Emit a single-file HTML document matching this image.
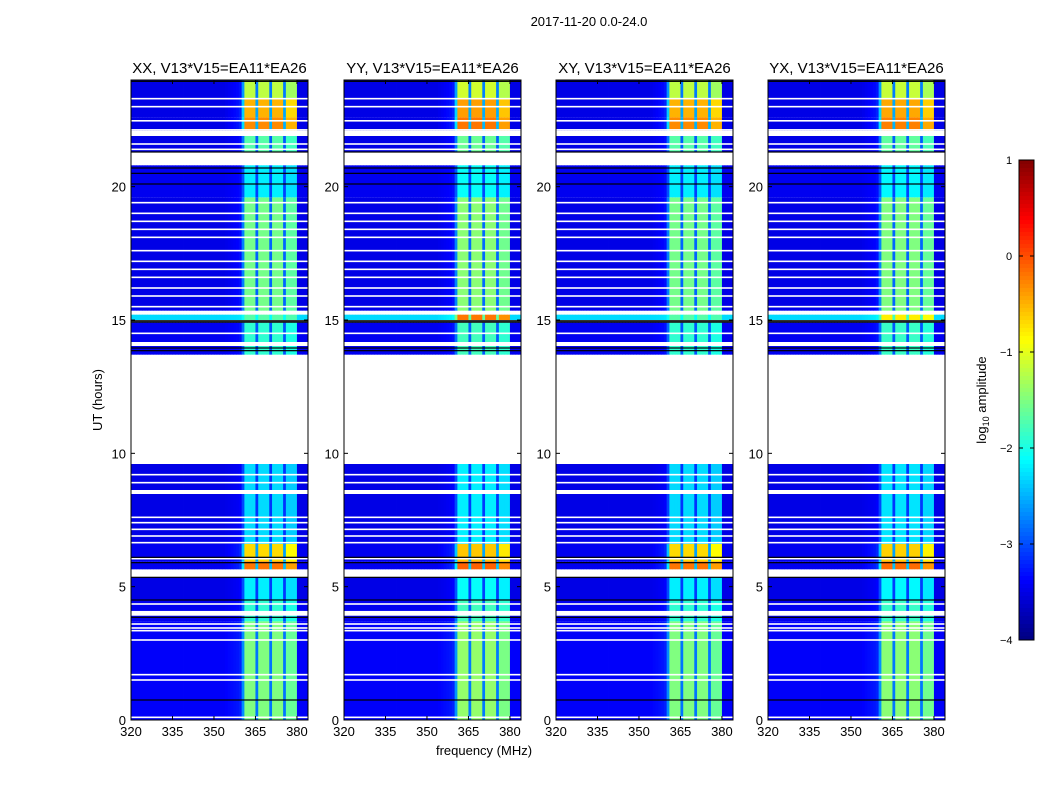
<!DOCTYPE html>
<html><head><meta charset="utf-8"><style>
body{margin:0;background:#fff;}
svg{display:block;font-family:"Liberation Sans",sans-serif;}
</style></head><body>
<svg id="c" width="1050" height="800" xmlns="http://www.w3.org/2000/svg">
<text x="589" y="26" font-size="13" text-anchor="middle">2017-11-20 0.0-24.0</text>
<text x="484" y="755" font-size="13" text-anchor="middle">frequency (MHz)</text>
<text x="102" y="400" font-size="13" text-anchor="middle" transform="rotate(-90 102 400)">UT (hours)</text>
<text x="986" y="400" font-size="13" text-anchor="middle" transform="rotate(-90 986 400)">log<tspan font-size="9" dy="3">10</tspan><tspan dy="-3"> amplitude</tspan></text>
<g id="panels"></g>
<g id="cbar"></g>
</svg>
<script>
// ---- data ----
const panelTitles = ["XX, V13*V15=EA11*EA26","YY, V13*V15=EA11*EA26","XY, V13*V15=EA11*EA26","YX, V13*V15=EA11*EA26"];
const freqStart = 320, freqEnd = 384;
// per-MHz column gain (0 = background, 1.6 = full band level)
const colGain = [0,0,0,0,0,0,0,0,0,0, 0,0,0,0,0,0,0,0,0,0, 0,0,0,0,0,0,0,0,0,0, 0,0,0,0,0.02,0.04,0.06,0.08,0.1,0.15,
  0.6,1.6,1.6,1.6,1.6,0.5,1.6,1.6,1.6,1.6, 0.5,1.6,1.6,1.6,1.6,0.5,1.5,1.5,1.5,1.5, 0,0,0,0];
// time segments: start hour, end hour, background level, band level
const segStart = [0,3.7,4.5,5.65,5.95,6.6,13.7,15.0,15.35,19.6,21.3,22.1,22.6,23.3];
const segEnd   = [3.7,4.5,5.35,5.95,6.6,9.6,14.9,15.2,19.6,20.8,21.9,22.6,23.3,24];
const segBg    = [-3.4,-3.45,-3.5,-3.45,-3.45,-3.5,-3.45,-2.3,-3.5,-3.45,-3.5,-3.5,-3.5,-3.5];
const segBand  = [-1.5,-1.9,-2.2,-0.2,-0.7,-2.3,-1.9,-1.7,-1.55,-2.2,-1.7,-0.3,-0.5,-1.2];
const panelShift = [0,0.1,0,0.05];
const row15Band = [-1.7,-0.2,-1.7,-0.8];
const whiteLines = [0.1,1.5,1.7,3.0,3.35,3.45,3.6,4.0,4.35,6.05,6.65,6.9,7.15,7.4,7.6,8.55,8.9,9.2,14.1,14.5,15.5,15.9,16.2,16.6,16.9,17.2,17.6,18.1,18.4,18.7,19.0,19.4,21.4,21.6,22.13,22.47,23.0,23.3];
const whiteThick = [0.06,0.06,0.06,0.06,0.06,0.06,0.06,0.18,0.06,0.06,0.06,0.06,0.06,0.06,0.06,0.15,0.06,0.06,0.15,0.06,0.06,0.06,0.06,0.06,0.06,0.06,0.06,0.06,0.06,0.06,0.06,0.06,0.06,0.06,0.06,0.06,0.06,0.06];
const blackLines = [0.75,3.85,4.5,5.35,5.9,6.1,13.85,13.95,14.92,14.97,20.1,20.5,20.7,21.3,23.95];
const xTicks = [320,335,350,365,380];
const yTicks = [0,5,10,15,20];
const cbTicks = [1,0,-1,-2,-3,-4];
const panelLefts = [131,344,556,768];
// ---- scales ----
const W = 177, TOP = 80, H = 640;
function xs(p,f){return panelLefts[p] + (f-freqStart)/(freqEnd-freqStart)*W;}
function ys(t){return TOP + H - t/24*H;}
function jet(v){
  let x = Math.max(0,Math.min(1,(v+4)/5));
  const c = k => Math.round(255*Math.max(0,Math.min(1,1.5-Math.abs(4*x-k))));
  return `rgb(${c(3)},${c(2)},${c(1)})`;
}
const NS = "http://www.w3.org/2000/svg";
function mk(tag, attrs, parent){
  const e = document.createElementNS(NS, tag);
  for (const k in attrs) e.setAttribute(k, attrs[k]);
  parent.appendChild(e); return e;
}
const root = document.getElementById('panels');
for (let p=0;p<4;p++){
  const g = mk('g',{},root);
  
  
  for (let s=0;s<segStart.length;s++){
    const band = (segStart[s]===15.0 ? row15Band[p] : segBand[s] + panelShift[p]);
    const y0 = ys(segEnd[s]), y1 = ys(segStart[s]);
    for (let c=0;c<colGain.length;c++){
      const v = segBg[s] + colGain[c]/1.6*(band - segBg[s]);
      const r = mk('rect',{x:xs(p,freqStart+c).toFixed(2), y:y0.toFixed(2), width:(W/colGain.length+0.4).toFixed(2), height:(y1-y0).toFixed(2), fill:jet(v)}, g);
      
      
    }
  }
  whiteLines.forEach((t,i)=>{
    const r = mk('rect',{x:panelLefts[p], y:ys(t)-whiteThick[i]/24*H/2, width:W, height:Math.max(1.5,whiteThick[i]/24*H), fill:'#fff'}, g);
    
    
  });
  blackLines.forEach(t=>{
    const r = mk('rect',{x:panelLefts[p], y:ys(t)-0.6, width:W, height:1.2, fill:'#000'}, g);
    
    
  });
  const fr = mk('rect',{x:panelLefts[p], y:TOP, width:W, height:H, fill:'none', stroke:'#000', 'stroke-width':1}, g);
  
  
  const tt = mk('text',{x:panelLefts[p]+W/2, y:TOP-7, 'font-size':15, 'text-anchor':'middle'}, g);
  tt.textContent = panelTitles[p];
  
  
  xTicks.forEach(f=>{
    const x = xs(p,f);
    mk('line',{x1:x,x2:x,y1:TOP+H,y2:TOP+H-4,stroke:'#000'},g);
    mk('line',{x1:x,x2:x,y1:TOP,y2:TOP+4,stroke:'#000'},g);
    const t = mk('text',{x:x, y:TOP+H+16, 'font-size':13, 'text-anchor':'middle'}, g);
    t.textContent = f;
    
    
  });
  yTicks.forEach(v=>{
    const y = ys(v);
    mk('line',{x1:panelLefts[p],x2:panelLefts[p]+4,y1:y,y2:y,stroke:'#000'},g);
    mk('line',{x1:panelLefts[p]+W,x2:panelLefts[p]+W-4,y1:y,y2:y,stroke:'#000'},g);
    const t = mk('text',{x:panelLefts[p]-5, y:y+5, 'font-size':13, 'text-anchor':'end'}, g);
    t.textContent = v;
    
    
  });
}
// colorbar
const cb = document.getElementById('cbar');
const CBX=1019, CBW=15, CBT=160, CBH=480;
for (let i=0;i<120;i++){
  const v = 1 - (i+0.5)/120*5;
  mk('rect',{x:CBX, y:CBT+i*CBH/120, width:CBW, height:CBH/120+0.5, fill:jet(v)}, cb);
}
const cbf = mk('rect',{x:CBX,y:CBT,width:CBW,height:CBH,fill:'none',stroke:'#000'},cb);


cbTicks.forEach(v=>{
  const y = CBT + (1-v)/5*CBH;
  mk('line',{x1:CBX,x2:CBX+4,y1:y,y2:y,stroke:'#000'},cb);
  mk('line',{x1:CBX+CBW,x2:CBX+CBW-4,y1:y,y2:y,stroke:'#000'},cb);
  const t = mk('text',{x:v<0?1000:1006, y:y+4, 'font-size':11}, cb);
  t.textContent = v<0 ? '\u2212'+(-v) : String(v);
  
  
});
</script>
</body></html>
